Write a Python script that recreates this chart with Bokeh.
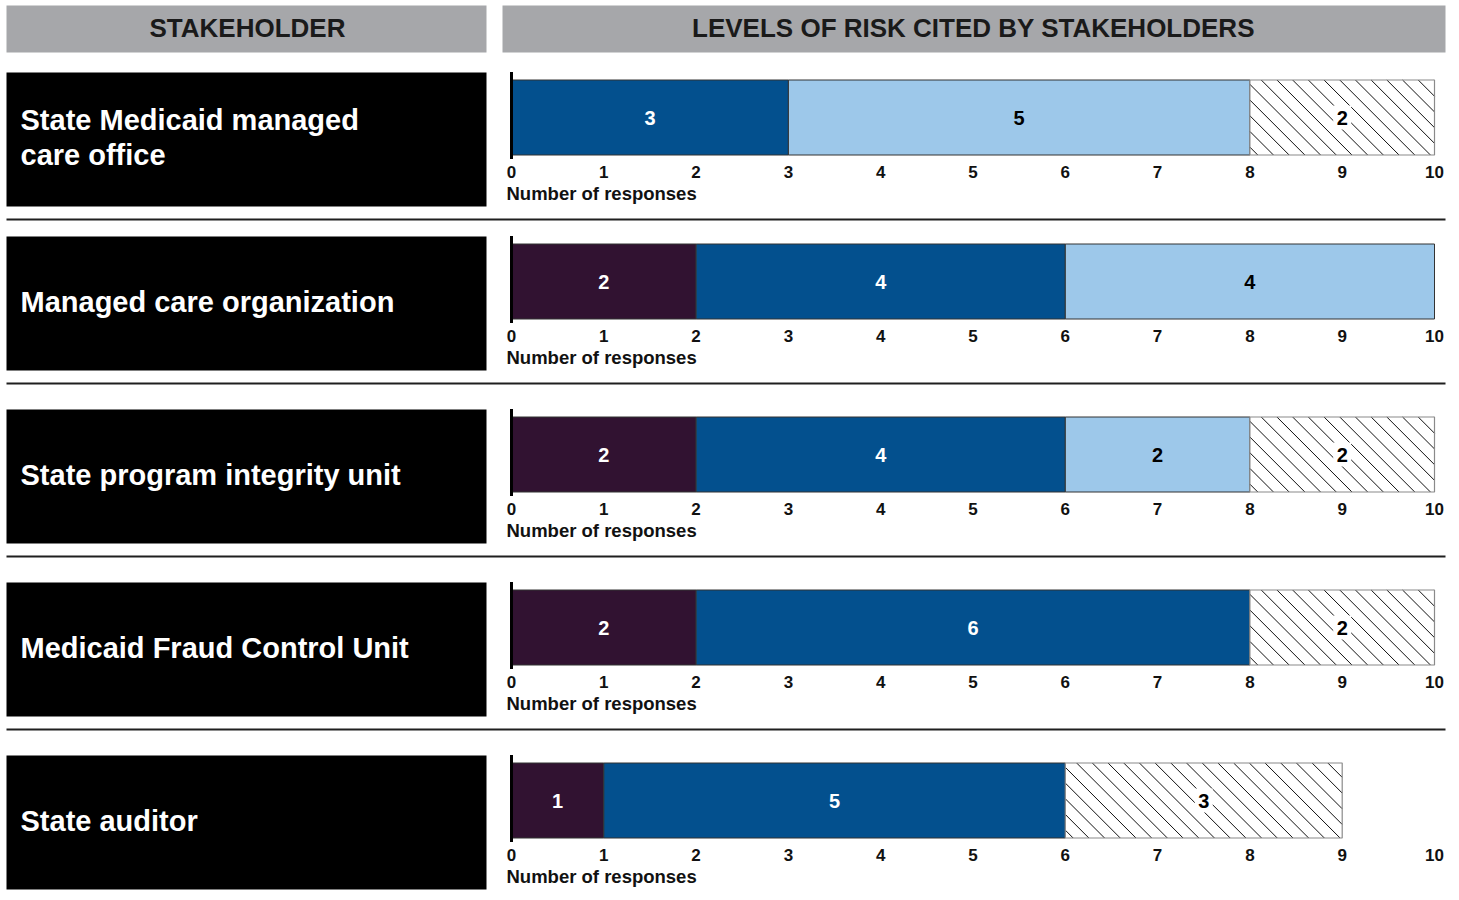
import numpy as np
from bokeh.plotting import figure
from bokeh.models import Range1d, ColumnDataSource
from bokeh.core.properties import value
from bokeh.embed import file_html
from bokeh.resources import INLINE

# ---------------- data ----------------
stakeholders = [
    "State Medicaid managed\ncare office",
    "Managed care organization",
    "State program integrity unit",
    "Medicaid Fraud Control Unit",
    "State auditor",
]
levels = ["High", "Moderate", "Low", "Other"]
high = [0, 2, 2, 2, 1]
moderate = [3, 4, 4, 6, 5]
low = [5, 4, 2, 0, 0]
other = [2, 0, 2, 2, 3]
tick_values = [0, 1, 2, 3, 4, 5, 6, 7, 8, 9, 10]
axis_title = "Number of responses"
header_left = "STAKEHOLDER"
header_right = "LEVELS OF RISK CITED BY STAKEHOLDERS"

# ---------------- styles ----------------
colors = ["#311231", "#03508e", "#9dc8ea", "#ffffff"]
label_colors = ["#ffffff", "#ffffff", "#000000", "#000000"]
FONT = value("Liberation Sans")

W, H = 1459, 900
x0_px, unit_px = 511.0, 92.3

p = figure(width=W, height=H, output_backend="svg", toolbar_location=None,
           x_range=Range1d(-x0_px / unit_px, (W - x0_px) / unit_px),
           y_range=Range1d(H, 0),
           x_axis_location=None, y_axis_location=None, min_border=0)
p.extra_x_ranges = {"px": Range1d(0, W)}
p.outline_line_color = None
p.grid.visible = False
p.background_fill_color = "white"
p.border_fill_color = "white"

# headers
p.quad(left=[6, 502], right=[486, 1445], top=[5, 5], bottom=[52, 52],
       fill_color="#a6a7aa", line_color=None, x_range_name="px")
p.text(x=[247, 973], y=[27, 27], text=[header_left, header_right],
       text_font=FONT, text_font_style="bold", text_font_size="26px",
       text_color="#1a1a1a", text_align="center", text_baseline="middle",
       x_range_name="px")

box_tops = [72, 236, 409, 582, 755]
box_h = 134
n = len(stakeholders)

# stakeholder boxes
p.quad(left=[6] * n, right=[486] * n, top=box_tops,
       bottom=[t + box_h for t in box_tops], fill_color="black",
       line_color=None, x_range_name="px")
line_gap = 35
lab_x, lab_y, lab_t = [], [], []
for t, s in zip(box_tops, stakeholders):
    parts = s.split("\n")
    c = t + box_h / 2 - 2
    for j, part in enumerate(parts):
        lab_x.append(20)
        lab_y.append(c + (j - (len(parts) - 1) / 2) * line_gap)
        lab_t.append(part)
p.text(x=lab_x, y=lab_y, text=lab_t,
       text_font=FONT, text_font_style="bold", text_font_size="29px",
       text_color="white", text_align="left", text_baseline="middle",
       x_range_name="px")

# separators
seps = [t + box_h + 13 for t in box_tops[:-1]]
p.segment(x0=[6] * len(seps), x1=[1445] * len(seps), y0=seps, y1=seps,
          line_color="#1f1f1f", line_width=2, x_range_name="px")

# bars
bar_centers = [t + 45 for t in box_tops]
bar_h = 75
hatch_step_px = 15.7


def hatch_segments(L, R, yc):
    """45-degree '\\' hatch lines clipped to a bar spanning [L, R] (data)."""
    T, B = yc - bar_h / 2, yc + bar_h / 2
    hx = bar_h / unit_px          # horizontal run of a 45deg line, data units
    step = hatch_step_px / unit_px
    xs0, ys0, xs1, ys1 = [], [], [], []
    xt = L - hx + step * 0.5
    while xt < R:
        sx, sy = xt, T
        ex, ey = xt + hx, B
        if sx < L:
            sy = T + (L - sx) * unit_px
            sx = L
        if ex > R:
            ey = T + (R - xt) * unit_px
            ex = R
        if ex > sx:
            xs0.append(sx); ys0.append(sy); xs1.append(ex); ys1.append(ey)
        xt += step
    return xs0, ys0, xs1, ys1


series = [high, moderate, low, other]
cum = np.zeros(n)
for k, vals in enumerate(series):
    vals = np.array(vals, dtype=float)
    left = cum.copy()
    right = cum + vals
    mask = vals > 0
    src = ColumnDataSource(dict(
        y=np.array(bar_centers)[mask], left=left[mask], right=right[mask],
        mid=((left + right) / 2)[mask], lab=[str(int(v)) for v in vals[mask]]))
    if levels[k] == "Other":
        p.hbar(y="y", left="left", right="right", height=bar_h, source=src,
               fill_color="white", line_color=None)
        X0, Y0, X1, Y1 = [], [], [], []
        for L, R, yc in zip(src.data["left"], src.data["right"], src.data["y"]):
            a, b, c_, d = hatch_segments(L, R, yc)
            X0 += a; Y0 += b; X1 += c_; Y1 += d
        p.segment(x0=X0, y0=Y0, x1=X1, y1=Y1, line_color="#111111",
                  line_width=1)
        p.hbar(y="y", left="left", right="right", height=bar_h, source=src,
               fill_color=None, line_color="#8a8a8a", line_width=1.2)
        p.rect(x="mid", y="y", width=18, height=24, width_units="screen",
               height_units="screen", source=src, fill_color="white",
               line_color=None)
    else:
        p.hbar(y="y", left="left", right="right", height=bar_h, source=src,
               fill_color=colors[k], line_color="#333333", line_width=1)
    p.text(x="mid", y="y", text="lab", source=src, text_font=FONT,
           text_font_style="bold", text_font_size="20px",
           text_color=label_colors[k], text_align="center",
           text_baseline="middle")
    cum = right

# axes per row
for c in bar_centers:
    top = c - bar_h / 2
    bot = c + bar_h / 2
    p.segment(x0=[0], x1=[0], y0=[top - 8], y1=[bot + 4], line_color="black",
              line_width=3)
    p.text(x=tick_values, y=[bot + 17] * len(tick_values),
           text=[str(t) for t in tick_values], text_font=FONT,
           text_font_style="bold", text_font_size="17px", text_color="#111111",
           text_align="center", text_baseline="middle")
    p.text(x=[0], y=[bot + 38], text=[axis_title], x_offset=-5, text_font=FONT,
           text_font_style="bold", text_font_size="18.5px", text_color="#111111",
           text_align="left", text_baseline="middle")

open("out.html", "w").write(file_html(p, INLINE))
